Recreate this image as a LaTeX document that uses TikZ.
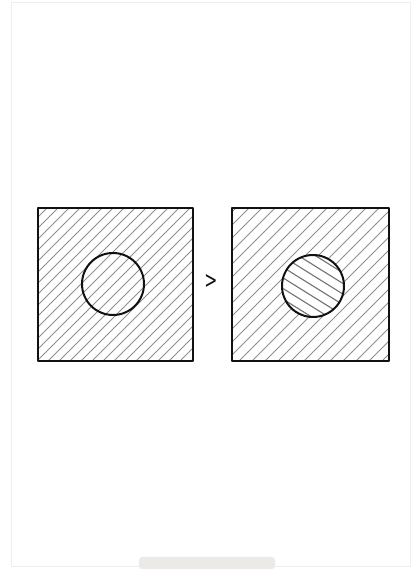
\documentclass[tikz,border=0pt]{standalone}
\usepackage{fontspec}
\setmainfont{DejaVu Sans}
\usetikzlibrary{backgrounds}
\definecolor{my_frame}{HTML}{EEEEEE}
\definecolor{my_bar}{HTML}{ECEAE7}
\definecolor{my_hatch}{HTML}{8F8F8F}
\definecolor{my_ink}{HTML}{111111}

\begin{document}
\begin{tikzpicture}[
    x=1pt, y=1pt,
    outline/.style={draw=my_ink, line width=1.7pt, line join=round},
    ring/.style={draw=my_ink, line width=2pt},
    hatch/.style={draw=my_hatch, line width=0.9pt},
    hatchdark/.style={draw=my_hatch!80!black, line width=1.1pt}
]
\useasboundingbox (0,0) rectangle (411,569);

% ================================================================
% Rahmen und Leiste
% ================================================================
\draw[my_frame, line width=0.8pt] (11,3) rectangle (410,567);
\fill[my_bar, rounded corners=3pt] (139,0) rectangle (275,12);

% ================================================================
% LINKES QUADRAT: Schraffur läuft durch den Kreis
% ================================================================
\coordinate (L1) at (38,208);
\coordinate (L2) at (193,361);
\coordinate (Lc) at (113,285);

\begin{scope}
    \clip (L1) rectangle (L2);
    \foreach \x in {-125,-114,...,200} {
        \draw[hatch] (\x,200) -- ++(170,170);
    }
\end{scope}
\draw[outline] (L1) rectangle (L2);
\draw[ring] (Lc) circle (31);

% Vergleichszeichen
\node[font=\fontsize{24}{24}\selectfont, text=my_ink, xscale=0.65] (cmp)
    at (211,287) {>};

% ================================================================
% RECHTES QUADRAT: Kreis mit Gegenschraffur
% ================================================================
\coordinate (R1) at (232,208);
\coordinate (R2) at (389,361);
\coordinate (Rc) at (313,283);

\begin{scope}
    \clip (R1) rectangle (R2);
    \foreach \x in {75,88,...,400} {
        \draw[hatch] (\x,200) -- ++(170,170);
    }
\end{scope}

% Kreisinneres: andere Richtung, flacher
\fill[white] (Rc) circle (31);
\begin{scope}
    \clip (Rc) circle (31);
    \begin{scope}[shift={(Rc)}, rotate=-32]
        \foreach \d in {-36,-27,...,36} {
            \draw[hatchdark] (-40,\d) -- (40,\d);
        }
    \end{scope}
\end{scope}
\draw[outline] (R1) rectangle (R2);
\draw[ring] (Rc) circle (31);

\end{tikzpicture}
\end{document}
